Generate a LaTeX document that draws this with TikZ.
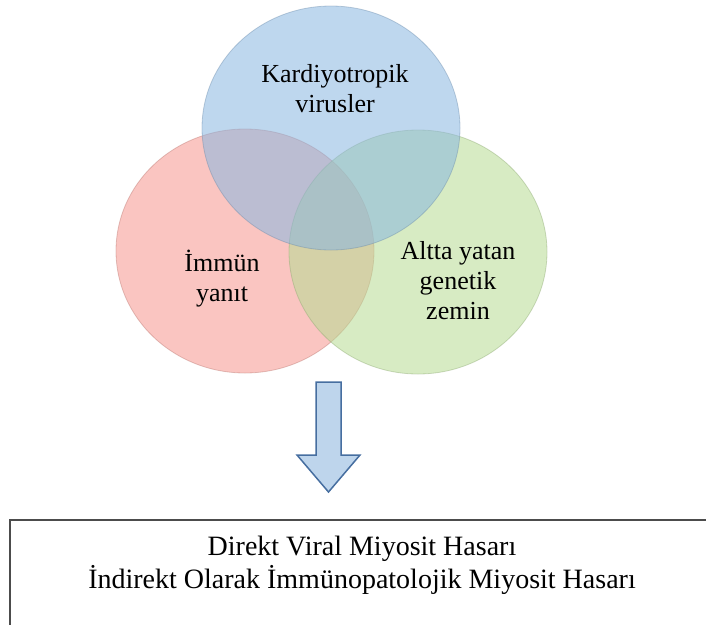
\documentclass[tikz,border=0pt]{standalone}
\usepackage{fontspec}
\setmainfont{Liberation Serif}
\usetikzlibrary{shapes.geometric}

\begin{document}
\begin{tikzpicture}[x=1pt,y=-1pt,
  venn/.style={ellipse,minimum width=258,minimum height=244,fill opacity=0.55,draw opacity=0.4,line width=0.8},
  vennlbl/.style={align=center,inner sep=0,font=\fontsize{26}{30}\selectfont},
  hasarlbl/.style={align=center,inner sep=0,font=\fontsize{28}{33}\selectfont}]
\definecolor{immred}{RGB}{245,150,142}
\definecolor{gengreen}{RGB}{182,219,146}
\definecolor{virblue}{RGB}{137,182,224}
\definecolor{arrfill}{RGB}{190,213,236}
\definecolor{arredge}{RGB}{70,110,160}
\useasboundingbox (0,0) rectangle (706,624);
\clip (0,0) rectangle (706,624);
  \foreach \nm/\clr/\cx/\cy in {immun/immred/245/251,genetik/gengreen/418/252,virus/virblue/331/128}
  {  \node [venn,fill=\clr,draw=\clr!75!black] (\nm) at (\cx,\cy) {};}
\node [vennlbl] (viruslbl) at (335,89) {Kardiyotropik\\virusler};
\node [vennlbl] (immunlbl) at (222,279) {İmmün\\yanıt};
\node [vennlbl] (genetiklbl) at (458,281) {Altta yatan\\genetik\\zemin};
% block arrow
\coordinate (arrtop) at (328.5,382);
\draw [fill=arrfill,draw=arredge,line width=1.5,line join=miter]
  (arrtop) ++(-12.5,0) -- ++(25,0) -- ++(0,73) -- ++(19,0) -- ++(-31.5,37)
  -- ++(-31.5,-37) -- ++(19,0) -- cycle;
\draw [draw=black!70,line width=1.5] (10,520) rectangle (714,650);
\node [hasarlbl] (hasar) at (362,565.5) {Direkt Viral Miyosit Hasarı\\İndirekt Olarak İmmünopatolojik Miyosit Hasarı};
\end{tikzpicture}
\end{document}
